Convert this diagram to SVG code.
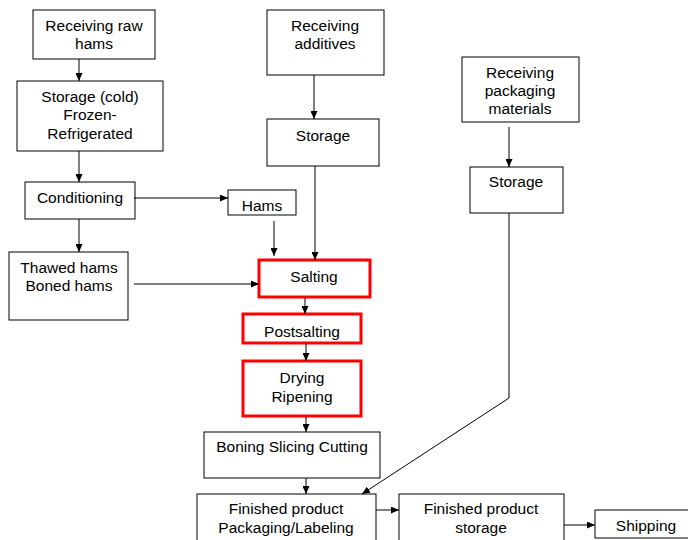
<svg xmlns="http://www.w3.org/2000/svg" width="688" height="540" viewBox="0 0 688 540">
<style>
rect{fill:#fff;stroke:#000;stroke-width:1}
rect.red{stroke:#f00;stroke-width:3}
text{font-family:"Liberation Sans",Arial,sans-serif;font-size:15.5px;fill:#000;text-anchor:middle}
.c line,.c polyline{stroke:#000;stroke-width:1;fill:none;marker-end:url(#ah)}
</style>
<defs>
<marker id="ah" markerUnits="userSpaceOnUse" markerWidth="9" markerHeight="7" refX="8" refY="3.5" orient="auto"><path d="M0,0 L8,3.5 L0,7 z" fill="#000"/></marker>
</defs>
<g id="raw"><rect x="33" y="10" width="122" height="49"/><text x="94" y="31">Receiving raw</text><text x="94" y="49">hams</text></g>
<g id="coldstorage"><rect x="17" y="81" width="146" height="70"/><text x="90" y="102">Storage (cold)</text><text x="90" y="120">Frozen-</text><text x="90" y="139">Refrigerated</text></g>
<g id="conditioning"><rect x="25" y="182" width="110" height="37"/><text x="80" y="203">Conditioning</text></g>
<g id="hams"><rect x="228" y="190" width="68" height="25"/><text x="262" y="211">Hams</text></g>
<g id="thawed"><rect x="9" y="252" width="119" height="68"/><text x="69" y="273">Thawed hams</text><text x="69" y="291">Boned hams</text></g>
<g id="additives"><rect x="267" y="10" width="117" height="65"/><text x="325" y="31">Receiving</text><text x="325" y="49">additives</text></g>
<g id="storage1"><rect x="267" y="119" width="112" height="47"/><text x="323" y="141">Storage</text></g>
<g id="salting"><rect class="red" x="259" y="260" width="111" height="37"/><text x="314" y="282">Salting</text></g>
<g id="postsalting"><rect class="red" x="243" y="314" width="118" height="29"/><text x="302" y="337">Postsalting</text></g>
<g id="drying"><rect class="red" x="243" y="361" width="118" height="55"/><text x="302" y="383">Drying</text><text x="302" y="402">Ripening</text></g>
<g id="boning"><rect x="204" y="432" width="176" height="46"/><text x="292" y="452">Boning Slicing Cutting</text></g>
<g id="packaging"><rect x="197" y="494" width="179" height="60"/><text x="286" y="514">Finished product</text><text x="286" y="533">Packaging/Labeling</text></g>
<g id="fpstorage"><rect x="399" y="494" width="165" height="60"/><text x="481" y="514">Finished product</text><text x="481" y="533">storage</text></g>
<g id="shipping"><rect x="595" y="510" width="100" height="28"/><text x="646" y="531">Shipping</text></g>
<g id="pkgmat"><rect x="462" y="57" width="117" height="65"/><text x="520" y="78">Receiving</text><text x="520" y="96">packaging</text><text x="520" y="114">materials</text></g>
<g id="storage2"><rect x="470" y="167" width="93" height="46"/><text x="516" y="187">Storage</text></g>
<g class="c" id="connectors">
<line x1="79" y1="59" x2="79" y2="81"/>
<line x1="79" y1="151" x2="79" y2="182"/>
<line x1="79" y1="219" x2="79" y2="252"/>
<line x1="134" y1="198" x2="228" y2="198"/>
<line x1="274" y1="221" x2="274" y2="256"/>
<line x1="314" y1="75" x2="314" y2="119"/>
<line x1="315" y1="166" x2="315" y2="260"/>
<line x1="134" y1="284" x2="259" y2="284"/>
<line x1="305" y1="298" x2="305" y2="314"/>
<line x1="306" y1="343" x2="306" y2="361"/>
<line x1="306" y1="417" x2="306" y2="432"/>
<line x1="306" y1="478" x2="306" y2="494"/>
<line x1="509" y1="127" x2="509" y2="167"/>
<polyline points="509,213 509,398 362,494"/>
<line x1="376" y1="510" x2="399" y2="510"/>
<line x1="564" y1="525" x2="595" y2="525"/>
</g>
</svg>
